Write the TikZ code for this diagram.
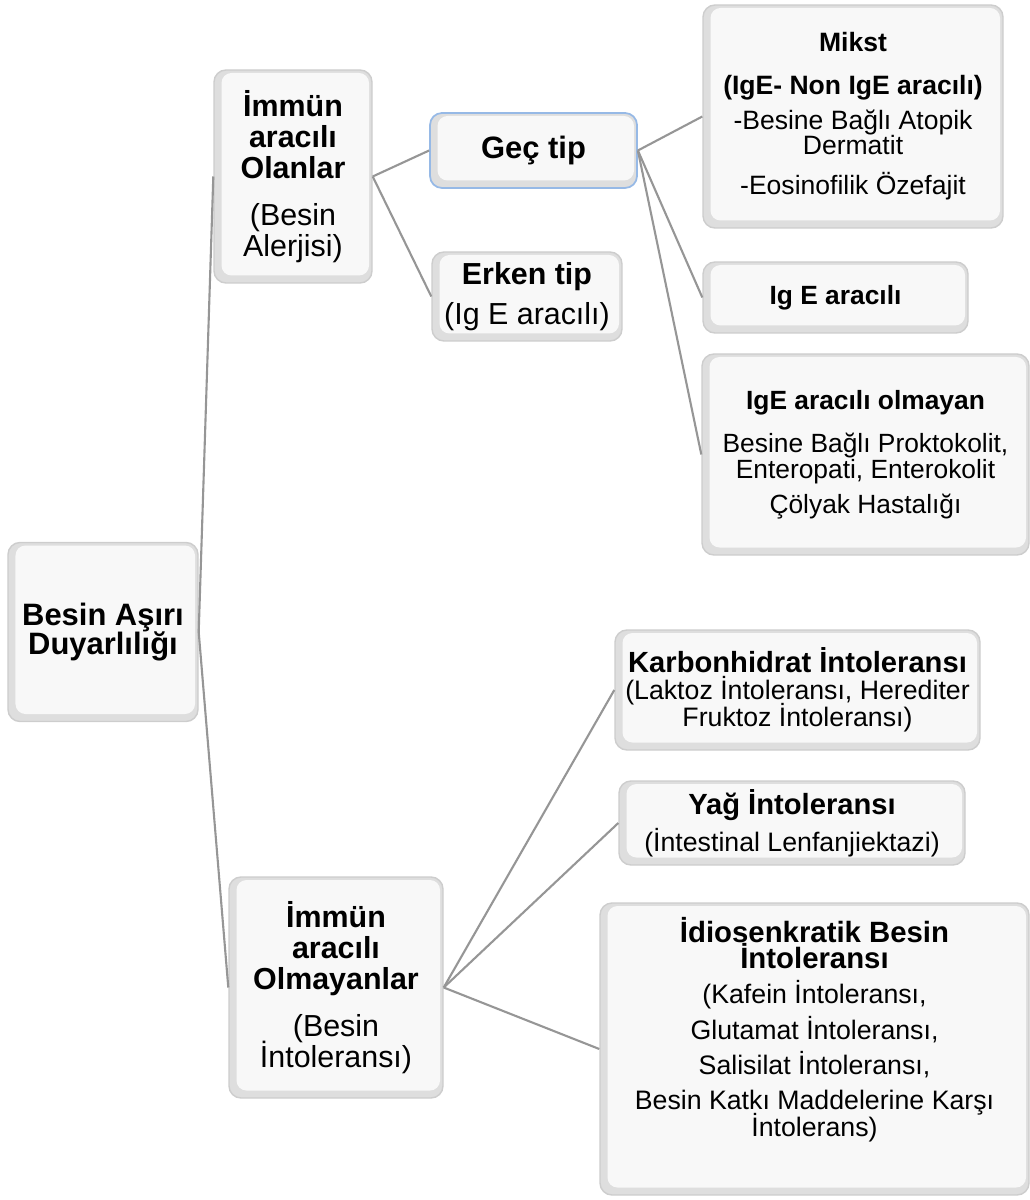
\documentclass[tikz,border=0pt]{standalone}
\usepackage{fontspec}
\setmainfont{Liberation Sans}
\definecolor{boxouter}{RGB}{222,222,222}
\definecolor{boxinner}{RGB}{248,248,248}
\definecolor{boxedge}{RGB}{205,205,205}
\definecolor{seledge}{RGB}{150,185,230}
\definecolor{linkgray}{RGB}{150,150,150}
\newcommand{\fsz}[2]{\fontsize{#1}{#2}\selectfont\lineskiplimit=-100pt\lineskip=0pt\relax}
\newcommand{\sm}[1]{{\fontsize{15.2}{15.3}\selectfont #1}}
\tikzset{
  box/.style={rectangle, rounded corners=0.24cm, fill=boxouter, draw=boxedge, line width=0.8pt,
    align=center, inner sep=2pt, text=black,
    path picture={\fill[boxinner, rounded corners=0.2cm]
      ([shift={(0.15,0.15)}]path picture bounding box.south west) rectangle
      ([shift={(-0.06,-0.06)}]path picture bounding box.north east);}},
  selbox/.style={box, draw=seledge, line width=1pt},
  link/.style={draw=linkgray, line width=1.2pt}
}
\begin{document}
\begin{tikzpicture}
\useasboundingbox (0,0) rectangle (20.58,-24);
% root
\node[box, minimum width=3.8cm, minimum height=3.58cm, font=\fsz{17.6}{16.6}] (root) at (2.06,-12.64)
  {\textbf{Besin Aşırı}\\\textbf{Duyarlılığı}};
% immun aracili olanlar
\node[box, minimum width=3.16cm, minimum height=4.26cm, font=\fsz{17.3}{17.6}] (ia) at (5.86,-3.53)
  {\textbf{İmmün}\\\textbf{aracılı}\\\textbf{Olanlar}\\[9pt](Besin\\Alerjisi)};
% gec tip
\node[selbox, minimum width=4.14cm, minimum height=1.5cm, font=\fsz{17.6}{17.6}] (gec) at (10.67,-3.01)
  {\textbf{Geç tip}};
% erken tip
\node[box, minimum width=3.8cm, minimum height=1.78cm, font=\fsz{17.3}{17.6}] (erken) at (10.54,-5.93)
  {\textbf{Erken tip}\\[5pt](Ig E aracılı)};
% mikst
\node[box, minimum width=6.0cm, minimum height=4.46cm, font=\fsz{15.1}{14.7}] (mikst) at (17.06,-2.33)
  {\textbf{Mikst}\\[9.6pt]\textbf{(IgE- Non IgE aracılı)}\\[5pt]-Besine Bağlı Atopik\\Dermatit\\[8pt]-Eosinofilik Özefajit};
% ig e aracili
\node[box, minimum width=5.3cm, minimum height=1.42cm, font=\fsz{15}{14.7}] (ige) at (16.71,-5.95)
  {\textbf{Ig E aracılı}};
% ige aracili olmayan
\node[box, minimum width=6.54cm, minimum height=4.02cm, font=\fsz{15}{14.7}] (nonige) at (17.31,-9.09)
  {\textbf{IgE aracılı olmayan}\\[10pt]Besine Bağlı Proktokolit,\\Enteropati, Enterokolit\\[5pt]Çölyak Hastalığı};
% immun aracili olmayanlar
\node[box, minimum width=4.28cm, minimum height=4.42cm, font=\fsz{17.3}{17.6}] (io) at (6.72,-19.75)
  {\textbf{İmmün}\\\textbf{aracılı}\\\textbf{Olmayanlar}\\[9pt](Besin\\İntoleransı)};
% karbonhidrat
\node[box, minimum width=7.3cm, minimum height=2.4cm, font=\fsz{16.6}{15.3}] (karb) at (15.95,-13.8)
  {\textbf{Karbonhidrat İntoleransı}\\\sm{(Laktoz İntoleransı, Herediter}\\\sm{Fruktoz İntoleransı)}};
% yag
\node[box, minimum width=6.92cm, minimum height=1.68cm, font=\fsz{16.6}{15.3}] (yag) at (15.84,-16.46)
  {\textbf{Yağ İntoleransı}\\[5.7pt]\sm{(İntestinal Lenfanjiektazi)}};
% idiosenkratik
\node[box, minimum width=8.58cm, minimum height=5.84cm, font=\fsz{16.7}{15.2}] (idio) at (16.29,-20.98)
  {\textbf{İdiosenkratik Besin}\\\textbf{İntoleransı}\\[4.8pt]\sm{(Kafein İntoleransı,}\\[4.8pt]\sm{Glutamat İntoleransı,}\\[4.8pt]\sm{Salisilat İntoleransı,}\\[4.8pt]\sm{Besin Katkı Maddelerine Karşı}\\\sm{İntolerans)}\rule[-0.9cm]{0pt}{0.9cm}};
% connectors
\draw[link] (root.east) -- (ia.west);
\draw[link] (root.east) -- (io.west);
\draw[link] (ia.east) -- (gec.west);
\draw[link] (ia.east) -- (erken.west);
\draw[link] (gec.east) -- (mikst.west);
\draw[link] (gec.east) -- (ige.west);
\draw[link] (gec.east) -- (nonige.west);
\draw[link] (io.east) -- (karb.west);
\draw[link] (io.east) -- (yag.west);
\draw[link] (io.east) -- (idio.west);
\end{tikzpicture}
\end{document}
